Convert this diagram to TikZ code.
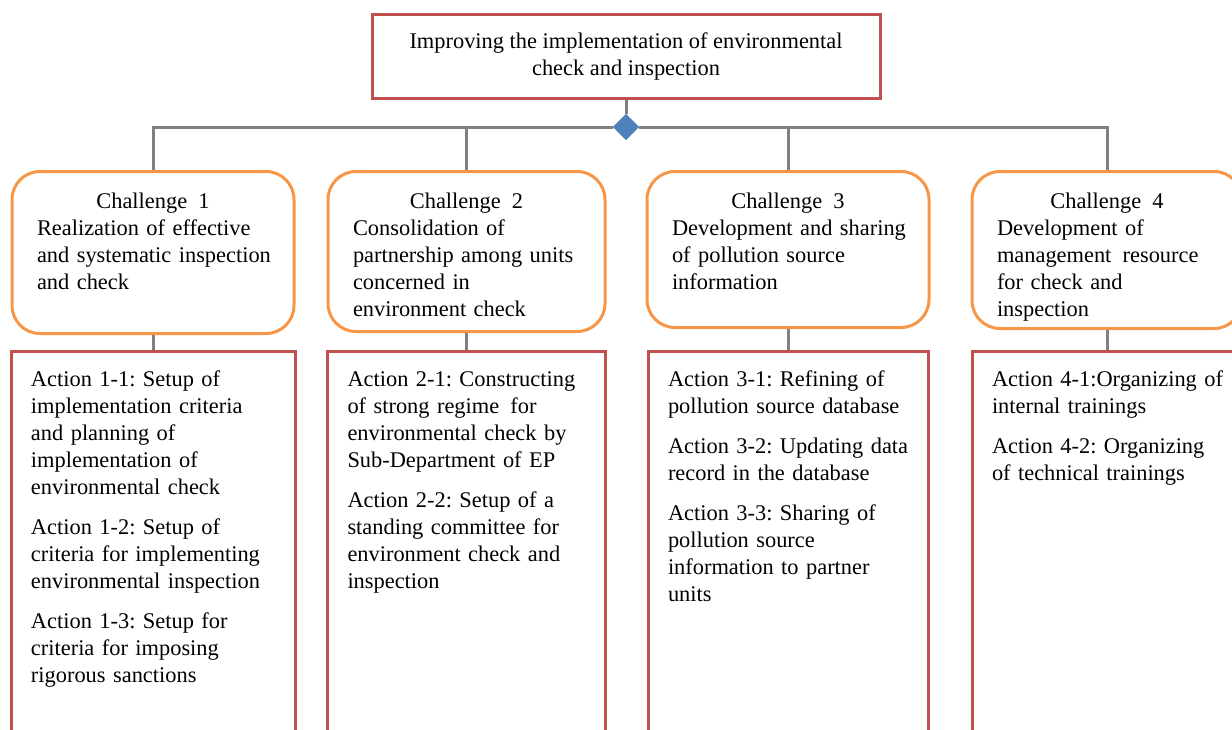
\documentclass[tikz,border=0pt]{standalone}
\usepackage{fontspec}
\setmainfont{Liberation Serif}
\usetikzlibrary{shapes.geometric}
\definecolor{boxred}{RGB}{192,80,77}
\definecolor{boxorange}{RGB}{247,150,70}
\definecolor{dotblue}{RGB}{79,129,189}
\definecolor{linegray}{RGB}{128,128,128}
\newcommand{\chtitle}[1]{\makebox[\linewidth]{Challenge\enspace #1}\\}
\frenchspacing

\begin{document}
\begin{tikzpicture}[x=0.5pt, y=-0.5pt,
	font=\fontsize{11.2}{13.5}\selectfont,
	every node/.append style={execute at begin node={\rightskip=-30pt plus 1fil\hyphenpenalty=10000\relax}},
	goalbox/.style={draw=boxred, line width=1.5pt, minimum width=254pt, minimum height=42pt, align=center},
	chbox/.style={draw=boxorange, line width=1.5pt, rounded corners=14pt, anchor=north, align=left,
		inner xsep=12.5pt, inner ysep=0pt, text height=18.5pt},
	actbox/.style={draw=boxred, line width=1.5pt, anchor=north, align=left,
		inner xsep=10pt, inner ysep=0pt, text height=17.5pt, text depth=182.5pt},
	junction/.style={diamond, fill=dotblue, draw=none, inner sep=0pt, minimum size=13pt},
	link/.style={draw=linegray, line width=1.5pt},
	]
	\useasboundingbox (0,0) rectangle (1232,729);
	\clip (0,0) rectangle (1232,729);
	
	% goal and branching point
	\node[goalbox] (goal) at (626,56) {Improving the implementation of environmental\\check and inspection};
	\node[junction] (split) at (626,127) {};
	
	% challenges
	\node[chbox, text width=116pt, text depth=62.5pt] (ch1) at (153,170) {\chtitle{1}Realization of effective\\and systematic inspection\\and check};
	\node[chbox, text width=113.5pt, text depth=61.5pt] (ch2) at (466.5,170) {\chtitle{2}Consolidation of\\partnership among units\\concerned in\\environment check};
	\node[chbox, text width=116pt, text depth=59.5pt] (ch3) at (788,170) {\chtitle{3}Development and sharing\\of pollution source\\information};
	\node[chbox, text width=110pt, text depth=60pt] (ch4) at (1107,170) {\chtitle{4}Development of\\management\enspace resource\\for check and\\inspection};
	
	% actions
	\node[actbox, text width=122pt] (act1) at (153,350) {Action 1-1: Setup of\\implementation criteria\\and planning of\\implementation of\\environmental check\\[6.5pt]
		Action 1-2: Setup of\\criteria for implementing\\environmental inspection\\[6.5pt]
		Action 1-3: Setup for\\criteria for imposing\\rigorous sanctions};
	\node[actbox, text width=119pt] (act2) at (466.5,350) {Action 2-1: Constructing\\of strong regime\enspace for\\environmental check by\\Sub-Department of EP\\[6.5pt]
		Action 2-2: Setup of a\\standing committee for\\environment check and\\inspection};
	\node[actbox, text width=120pt] (act3) at (788,350) {Action 3-1: Refining of\\pollution source database\\[6.5pt]
		Action 3-2: Updating data\\record in the database\\[6.5pt]
		Action 3-3: Sharing of\\pollution source\\information to partner\\units};
	\node[actbox, text width=115pt] (act4) at (1107,350) {Action 4-1:Organizing of\\internal trainings\\[6.5pt]
		Action 4-2: Organizing\\of technical trainings};
	
	% connectors
	\draw[link] (goal.south) -- (split.north);
	\draw[link] (split.west) -| (ch1.north);
	\draw[link] (split.west) -| (ch2.north);
	\draw[link] (split.east) -| (ch3.north);
	\draw[link] (split.east) -| (ch4.north);
	\foreach \i in {1,...,4}
		\draw[link] (ch\i.south) -- (act\i.north);
	\node[junction] at (split) {};
\end{tikzpicture}
\end{document}
